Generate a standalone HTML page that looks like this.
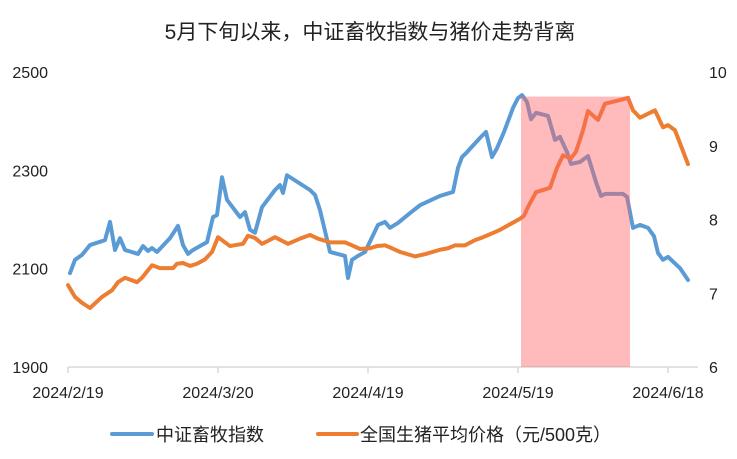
<!DOCTYPE html>
<html><head><meta charset="utf-8">
<style>
html,body{margin:0;padding:0;background:#fff;}
svg{display:block;font-family:"Liberation Sans Narrow","Liberation Sans","Noto Sans CJK SC",sans-serif;}
</style></head>
<body>
<svg id="chart" width="737" height="459" viewBox="0 0 737 459">
<rect x="0" y="0" width="737" height="459" fill="#fff"/>
<text x="370" y="39" text-anchor="middle" font-size="21" fill="#222" font-family="'Liberation Sans','Noto Sans CJK SC',sans-serif">5月下旬以来，中证畜牧指数与猪价走势背离</text>
<g id="axes"></g>
<g id="series"></g>
<g id="band"></g>
<g>
<line x1="112" y1="434" x2="152" y2="434" stroke="#5b9bd5" stroke-width="4" stroke-linecap="round"/>
<text x="156" y="441" font-size="18" fill="#222" font-family="'Liberation Sans','Noto Sans CJK SC',sans-serif">中证畜牧指数</text>
<line x1="318" y1="434" x2="357" y2="434" stroke="#ed7d31" stroke-width="4" stroke-linecap="round"/>
<text x="360" y="441" font-size="18" fill="#222" font-family="'Liberation Sans','Noto Sans CJK SC',sans-serif">全国生猪平均价格（元/500克）</text>
</g>
</svg>
<script>
// day offsets from 2024/2/19
const indexDays = [0.4,1.4,2.8,4.4,7.4,8.4,9.4,10.4,11.4,14,15,16,16.8,17.8,20.4,22,23,24,25,27.8,29,29.8,30.8,31.8,34.4,35.4,36.4,37.4,38.8,41.4,42.4,43,43.8,48.4,49.4,50.4,52.4,55.4,56,56.8,58,59.4,62,63.4,64.4,66,68.4,70.4,74.4,77,78,78.8,79.8,82.4,83.6,84.8,85.8,87.2,89,90,90.8,91.8,92.6,93.6,96,97.4,98.4,99.8,100.6,102.4,104,105.6,106.6,107.4,111,111.8,113,114.4,116,117.2,118,119,120,122.4,124];
const indexValues = [2091,2118,2128,2148,2158,2195,2138,2162,2138,2130,2146,2136,2142,2134,2162,2187,2148,2130,2138,2154,2205,2209,2286,2240,2205,2215,2179,2173,2225,2260,2270,2254,2290,2260,2250,2219,2134,2126,2081,2118,2126,2134,2189,2195,2183,2193,2213,2229,2248,2256,2305,2327,2337,2366,2378,2327,2345,2378,2427,2447,2453,2439,2404,2417,2411,2362,2368,2337,2313,2317,2329,2276,2248,2252,2252,2246,2183,2189,2183,2166,2132,2118,2124,2101,2077];
const priceDays = [0,1.4,2.8,4.4,6.8,8.8,10,11.4,13.8,14.8,16.8,18.4,21,21.8,23,24.4,25.8,27.4,28.8,30,32.4,35,36,37.4,38.8,40,41.4,44,46.4,48.4,50,52.4,55.4,56.8,58.4,60.4,61.8,63.4,64.8,66.4,69.4,71.4,74.4,76,77.4,79.4,81.4,83,84.4,85.4,86.4,88.8,90.4,91.2,92,93.6,96.4,97.8,99,100.6,101.6,103,104,106,107.4,110.4,112,113,114.4,117.4,119,120,121.4,124];
const priceValues = [7.11,6.95,6.87,6.80,6.95,7.04,7.15,7.21,7.15,7.21,7.38,7.34,7.34,7.40,7.41,7.37,7.40,7.46,7.56,7.76,7.64,7.67,7.78,7.75,7.67,7.71,7.76,7.67,7.74,7.79,7.74,7.69,7.69,7.65,7.60,7.61,7.64,7.65,7.61,7.56,7.50,7.53,7.59,7.61,7.65,7.65,7.72,7.76,7.80,7.83,7.86,7.95,8.01,8.05,8.17,8.37,8.43,8.70,8.87,8.83,8.92,9.21,9.47,9.35,9.57,9.62,9.65,9.48,9.38,9.48,9.25,9.28,9.21,8.75];
const tickDays = [0,30,60,90,120];
const tickLabels = ["2024/2/19","2024/3/20","2024/4/19","2024/5/19","2024/6/18"];
const leftTicks = [1900,2100,2300,2500];
const rightTicks = [6,7,8,9,10];
const bandStart = [90.6];
const bandEnd = [112.4];
const bandTopValue = [2450];

const NS="http://www.w3.org/2000/svg";
const X0=68, PXD=5.0, YB=367, YT=72;
const x = d => X0 + d*PXD;
const yL = v => YB - (v-1900)/(2500-1900)*(YB-YT);
const yR = v => YB - (v-6)/(10-6)*(YB-YT);
function mk(tag, attrs, parent){const e=document.createElementNS(NS,tag);for(const k in attrs)e.setAttribute(k,attrs[k]);parent.appendChild(e);return e;}
const axes=document.getElementById('axes');
const ax=mk('line',{x1:X0,y1:YB,x2:698,y2:YB,stroke:'#d9d9d9','stroke-width':1.5},axes);


tickDays.forEach((d,i)=>{
  const t=mk('line',{x1:x(d),y1:YB,x2:x(d),y2:YB+6,stroke:'#d9d9d9','stroke-width':1.5},axes);
  
  
  const l=mk('text',{x:x(d),y:YB+31,'text-anchor':'middle','font-size':16,fill:'#222'},axes);
  l.textContent=tickLabels[i];
  
  
});
leftTicks.forEach(v=>{
  const l=mk('text',{x:48,y:yL(v)+6,'text-anchor':'end','font-size':16,fill:'#222'},axes);
  l.textContent=v;
  
  
});
rightTicks.forEach(v=>{
  const l=mk('text',{x:709,y:yR(v)+6,'text-anchor':'start','font-size':16,fill:'#222'},axes);
  l.textContent=v;
  
  
});
const series=document.getElementById('series');
const pb=mk('polyline',{points:indexDays.map((d,i)=>x(d)+','+yL(indexValues[i])).join(' '),fill:'none',stroke:'#5b9bd5','stroke-width':4,'stroke-linejoin':'round','stroke-linecap':'round'},series);


const po=mk('polyline',{points:priceDays.map((d,i)=>x(d)+','+yR(priceValues[i])).join(' '),fill:'none',stroke:'#ed7d31','stroke-width':4,'stroke-linejoin':'round','stroke-linecap':'round'},series);


const band=document.getElementById('band');
bandStart.forEach((s,i)=>{
  const r=mk('rect',{x:x(s),y:yL(bandTopValue[i]),width:x(bandEnd[i])-x(s),height:YB-yL(bandTopValue[i]),fill:'rgb(255,100,100)','fill-opacity':0.44},band);
  
  
});
</script>
</body></html>
